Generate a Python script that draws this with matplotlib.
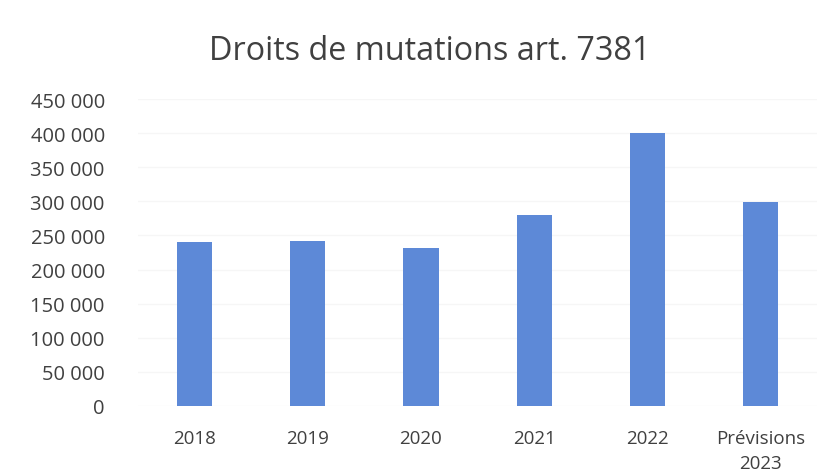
import matplotlib.pyplot as plt

# donnees
categories = ['2018', '2019', '2020', '2021', '2022', 'Prévisions\n2023']
values = [240000, 241500, 232000, 280000, 400000, 299000]
yticks = [0, 50000, 100000, 150000, 200000, 250000, 300000, 350000, 400000, 450000]

plt.rcParams['font.family'] = ['Open Sans', 'DejaVu Sans']

fig = plt.figure(figsize=(8.32, 4.77), dpi=100)
ax = fig.add_axes([0.166, 0.147, 0.816, 0.643])

x = range(len(categories))
ax.bar(x, values, width=0.31, color='#5d89d7', zorder=3)

ax.set_xlim(-0.5, len(categories) - 0.5)
ax.set_ylim(0, 450000)
ax.set_yticks(yticks)
ax.set_yticklabels(['{:,}'.format(v).replace(',', ' ') for v in yticks])
ax.set_xticks(list(x))
ax.set_xticklabels(categories, linespacing=1.5)

ax.grid(axis='y', color='#f6f6f6', linewidth=1, zorder=0)
for s in ax.spines.values():
	s.set_visible(False)
ax.tick_params(axis='x', length=0, labelsize=13.5, colors='#404040', pad=17)
ax.tick_params(axis='y', length=0, labelsize=14.5, colors='#404040', pad=24)

fig.text(0.517, 0.893, 'Droits de mutations art. 7381', ha='center', va='center',
	fontsize=23.3, color='#404040')

fig.savefig('out.png', dpi=100, facecolor='white')
